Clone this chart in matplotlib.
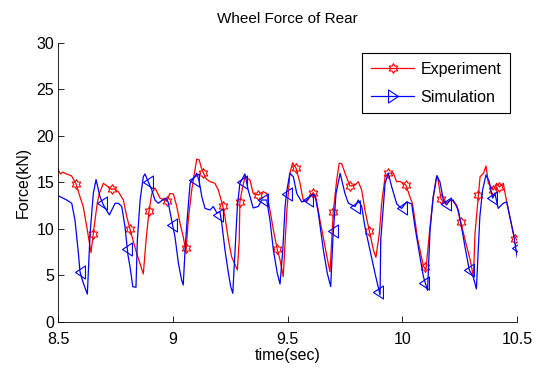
import numpy as np
import matplotlib
matplotlib.use("Agg")
from matplotlib import pyplot as plt
from matplotlib.path import Path
from matplotlib.lines import Line2D

plt.rcParams['font.family'] = ['Liberation Sans', 'DejaVu Sans']
plt.rcParams['font.size'] = 11

# Experiment (red)
exp_t = [8.501, 8.510, 8.520, 8.536, 8.558, 8.578, 8.593, 8.609, 8.626, 8.643,
         8.653, 8.670, 8.679, 8.697, 8.713, 8.733, 8.745, 8.762, 8.784, 8.799,
         8.813, 8.842, 8.871, 8.883, 8.896, 8.908, 8.922, 8.944, 8.973, 8.987,
         9.002, 9.017, 9.031, 9.045, 9.057, 9.067, 9.082, 9.096, 9.104, 9.115,
         9.122, 9.133, 9.144, 9.162, 9.183, 9.198, 9.217, 9.227, 9.242, 9.256,
         9.281, 9.289, 9.292, 9.304, 9.315, 9.336, 9.350, 9.372, 9.394, 9.409,
         9.423, 9.438, 9.455, 9.467, 9.481, 9.496, 9.510, 9.522, 9.537, 9.554,
         9.568, 9.583, 9.598, 9.612, 9.624, 9.641, 9.663, 9.677, 9.685, 9.699,
         9.714, 9.725, 9.736, 9.750, 9.772, 9.794, 9.808, 9.823, 9.837, 9.856,
         9.874, 9.885, 9.900, 9.910, 9.925, 9.939, 9.961, 9.975, 9.990, 10.016,
         10.033, 10.044, 10.055, 10.066, 10.077, 10.092, 10.103, 10.118, 10.133, 10.147,
         10.153, 10.169, 10.186, 10.215, 10.237, 10.252, 10.274, 10.296, 10.310, 10.317,
         10.332, 10.339, 10.354, 10.365, 10.375, 10.397, 10.412, 10.423, 10.440, 10.452,
         10.469, 10.484, 10.499]
exp_f = [16.3, 15.9, 16.1, 15.9, 15.7, 14.8, 13.6, 12.4, 10.0, 7.44,
         9.5, 12.75, 13.8, 14.9, 14.6, 14.25, 14.3, 14.0, 13.1, 11.3,
         9.96, 7.38, 5.16, 8.8, 11.95, 13.8, 14.4, 13.3, 13.0, 13.8,
         13.75, 12.4, 10.6, 9.16, 7.55, 10.96, 14.18, 16.3, 17.5, 17.4,
         16.7, 16.0, 15.4, 15.07, 14.9, 14.18, 12.5, 11.3, 8.8, 7.0,
         5.59, 8.8, 12.9, 14.5, 15.6, 15.25, 13.8, 13.64, 14.0, 13.8,
         12.03, 9.88, 7.8, 6.66, 4.87, 11.68, 15.97, 17.1, 16.5, 14.9,
         13.1, 12.9, 13.46, 13.9, 13.3, 10.96, 8.1, 6.3, 5.4, 11.85,
         15.25, 17.05, 17.0, 16.0, 14.6, 14.7, 15.07, 14.18, 12.03, 9.8,
         7.73, 6.95, 9.53, 12.75, 15.6, 15.97, 16.0, 15.07, 15.1, 14.7,
         13.46, 12.75, 10.96, 9.0, 7.73, 6.0, 5.59, 9.5, 13.1, 15.25,
         15.7, 13.2, 12.75, 13.1, 12.57, 10.96, 8.8, 6.66, 4.87, 9.5,
         13.64, 15.6, 15.97, 16.76, 14.9, 14.18, 14.9, 14.5, 14.9, 13.3,
         11.3, 9.5, 8.8]
exp_mark_t = [8.578, 8.653, 8.733, 8.813, 8.896, 8.973, 9.057, 9.133, 9.217, 9.292,
              9.372, 9.455, 9.537, 9.612, 9.699, 9.772, 9.856, 9.939, 10.016, 10.097,
              10.169, 10.256, 10.332, 10.397, 10.423, 10.491]
exp_mark_f = [14.8, 9.5, 14.25, 9.96, 11.95, 13.0, 8.0, 16.0, 12.5, 12.9,
              13.64, 7.8, 16.5, 13.9, 11.85, 14.6, 9.8, 15.97, 14.7, 5.95,
              13.2, 10.7, 13.64, 14.18, 14.5, 8.9]

# Simulation (blue)
sim_t = [8.505, 8.537, 8.559, 8.573, 8.588, 8.595, 8.609, 8.627, 8.639, 8.653,
         8.665, 8.682, 8.697, 8.723, 8.748, 8.762, 8.777, 8.791, 8.804, 8.813,
         8.825, 8.839, 8.845, 8.857, 8.871, 8.878, 8.891, 8.908, 8.922, 8.936,
         8.966, 8.979, 8.996, 9.009, 9.024, 9.038, 9.045, 9.053, 9.063, 9.075,
         9.089, 9.104, 9.115, 9.126, 9.140, 9.162, 9.176, 9.192, 9.205, 9.213,
         9.227, 9.242, 9.252, 9.261, 9.271, 9.281, 9.292, 9.314, 9.328, 9.350,
         9.372, 9.387, 9.409, 9.423, 9.438, 9.455, 9.467, 9.479, 9.489, 9.496,
         9.510, 9.525, 9.540, 9.561, 9.580, 9.605, 9.619, 9.634, 9.656, 9.673,
         9.688, 9.697, 9.711, 9.729, 9.750, 9.765, 9.794, 9.808, 9.823, 9.837,
         9.859, 9.881, 9.903, 9.906, 9.916, 9.925, 9.939, 9.954, 9.976, 9.997,
         10.019, 10.041, 10.055, 10.077, 10.092, 10.110, 10.121, 10.135, 10.150, 10.164,
         10.179, 10.193, 10.208, 10.222, 10.244, 10.258, 10.273, 10.292, 10.309, 10.323,
         10.331, 10.338, 10.350, 10.365, 10.379, 10.394, 10.404, 10.418, 10.440, 10.455,
         10.469, 10.484, 10.501]
sim_f = [13.5, 13.1, 12.75, 10.96, 7.38, 5.4, 4.2, 3.0, 9.53, 13.8,
         15.3, 13.46, 12.57, 11.5, 12.75, 12.75, 12.4, 10.24, 7.2, 5.94,
         3.8, 3.73, 8.8, 13.1, 15.6, 15.9, 15.15, 14.18, 13.1, 12.75,
         13.3, 12.9, 10.74, 9.16, 6.3, 4.5, 3.97, 7.73, 11.3, 14.9,
         15.4, 15.97, 15.07, 13.46, 12.2, 12.03, 12.4, 11.7, 11.85, 10.6,
         7.73, 5.23, 3.8, 3.08, 7.73, 12.4, 14.9, 15.9, 14.18, 12.25,
         12.4, 13.1, 13.1, 10.96, 7.73, 5.23, 4.08, 7.73, 12.4, 14.0,
         15.97, 15.6, 13.8, 12.9, 13.0, 13.64, 13.64, 11.68, 7.73, 5.23,
         3.8, 8.8, 13.8, 15.97, 13.8, 12.75, 12.4, 13.1, 12.4, 10.24,
         7.73, 5.23, 2.9, 8.8, 12.03, 14.9, 15.97, 14.5, 12.67, 12.2,
         12.9, 12.67, 10.24, 7.0, 4.87, 3.4, 9.88, 13.46, 15.7, 15.07,
         13.1, 12.57, 13.1, 13.1, 12.03, 10.24, 8.1, 5.59, 4.87, 3.55,
         7.73, 11.3, 14.18, 15.8, 15.07, 13.3, 13.8, 12.2, 12.75, 12.9,
         11.3, 9.53, 6.95]
sim_mark_t = [8.595, 8.690, 8.799, 8.893, 8.997, 9.093, 9.195, 9.300, 9.391, 9.496,
              9.590, 9.696, 9.794, 9.895, 9.997, 10.095, 10.192, 10.292, 10.392, 10.499]
sim_mark_f = [5.4, 12.75, 7.8, 15.0, 10.4, 15.3, 11.5, 15.07, 13.1, 13.8,
              13.1, 9.77, 12.4, 3.26, 12.2, 4.15, 12.67, 5.59, 13.3, 7.9]

hexagram = Path.unit_regular_star(6, innerCircle=0.577)
tri_left = Path([(-0.38, 0), (0.38, 0.5), (0.38, -0.5), (-0.38, 0)],
                [Path.MOVETO, Path.LINETO, Path.LINETO, Path.CLOSEPOLY])
tri_right = Path([(0.38, 0), (-0.38, 0.5), (-0.38, -0.5), (0.38, 0)],
                 [Path.MOVETO, Path.LINETO, Path.LINETO, Path.CLOSEPOLY])

fig = plt.figure(figsize=(5.4, 3.74), dpi=100)
ax = fig.add_axes([0.1078, 0.139, 0.8496, 0.747])

ax.plot(exp_t, exp_f, color='red', lw=0.9)
ax.plot(exp_mark_t, exp_mark_f, ls='none', marker=hexagram, ms=7,
        mfc='none', mec='red', mew=0.8)
ax.plot(sim_t, sim_f, color='blue', lw=0.9)
ax.plot(sim_mark_t, sim_mark_f, ls='none', marker=tri_left, ms=9.4,
        mfc='none', mec='blue', mew=0.8)

ax.set_xlim(8.5, 10.5)
ax.set_ylim(0, 30)
ax.set_xticks([8.5, 9, 9.5, 10, 10.5])
ax.set_xticklabels(['8.5', '9', '9.5', '10', '10.5'])
ax.set_yticks([0, 5, 10, 15, 20, 25, 30])
ax.spines['top'].set_visible(False)
ax.spines['right'].set_visible(False)
ax.tick_params(direction='in', length=4, width=0.6, labelsize=11.5)
ax.tick_params(axis='x', pad=7)
ax.tick_params(axis='y', pad=3)
for s in ['left', 'bottom']:
    ax.spines[s].set_linewidth(0.6)

ax.set_title('Wheel Force of Rear', fontsize=11, pad=14)
ax.set_xlabel('time(sec)', fontsize=11.5, labelpad=1)
ax.set_ylabel('Force(kN)', fontsize=11.5, labelpad=4)

handles = [Line2D([], [], color='red', lw=0.9, marker=hexagram, ms=7,
                  mfc='none', mec='red', mew=0.8),
           Line2D([], [], color='blue', lw=0.9, marker=tri_right, ms=9.4,
                  mfc='none', mec='blue', mew=0.8)]
leg = ax.legend(handles, ['Experiment', 'Simulation'], loc='upper right',
                bbox_to_anchor=(0.985, 0.963), borderaxespad=0, fancybox=False,
                framealpha=1, edgecolor='black', handlelength=2.7,
                handletextpad=0.4, labelspacing=0.8, borderpad=0.55, fontsize=11.5)
leg.get_frame().set_linewidth(0.8)

fig.savefig('out.png', dpi=100)
